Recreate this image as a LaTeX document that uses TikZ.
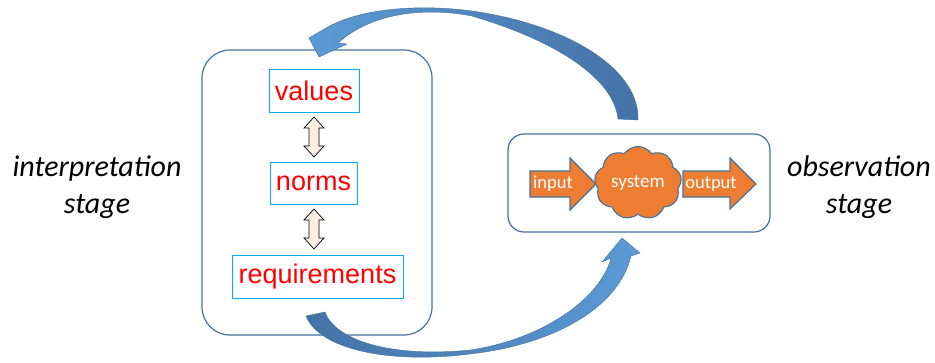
\documentclass[tikz,border=0pt]{standalone}
\usepackage{fontspec}
\setmainfont{Carlito}
\newfontfamily\arialf{Liberation Sans}
\usetikzlibrary{shapes.symbols}
\definecolor{boxblue}{HTML}{41719C}
\definecolor{lightblue}{HTML}{5B9BD5}
\definecolor{darkblue}{HTML}{4472A6}
\definecolor{orng}{HTML}{ED7D31}
\definecolor{cyanb}{HTML}{00B0F0}
\definecolor{beige}{HTML}{FBEFE4}
\begin{document}
\begin{tikzpicture}[x=1pt,y=-1pt,
  stagebox/.style={draw=boxblue, line width=1.2pt, inner sep=0pt},
  termbox/.style={draw=cyanb, line width=0.9pt, inner sep=0pt, text=red,
    font=\arialf\fontsize{27}{30}\selectfont},
  stagetext/.style={font=\itshape\fontsize{30}{37}\selectfont, align=center, inner sep=0pt},
  dblarrow/.style={draw=black, fill=beige, line width=0.7pt},
  flowarrow/.style={draw=boxblue, fill=orng, line width=1.1pt},
  flowtext/.style={text=white, inner sep=0pt, font=\fontsize{18.5}{20}\selectfont},
  bigarrow/.style={draw=boxblue, line width=0.4pt}]
\useasboundingbox (0,0) rectangle (935,362);

% stage boxes
\node[stagebox, rounded corners=28pt, minimum width=230pt, minimum height=285pt] (interp) at (317,192.5) {};
\node[stagebox, rounded corners=16pt, minimum width=262pt, minimum height=98pt] (obs) at (639,183) {};

% term boxes
\node[termbox, minimum width=90pt, minimum height=43pt] (values) at (314,90.5) {values};
\node[termbox, minimum width=87pt, minimum height=42pt] (norms) at (313.5,183) {norms};
\node[termbox, minimum width=171pt, minimum height=43pt] (req) at (317.5,276.5) {requirements};

% double arrows
\draw[dblarrow] (314,117) -- (324,128) -- (319,128) -- (319,146) -- (324,146) -- (314,157)
  -- (304,146) -- (309,146) -- (309,128) -- (304,128) -- cycle;
\draw[dblarrow] (314,209) -- (324,220) -- (319,220) -- (319,238) -- (324,238) -- (314,249)
  -- (304,238) -- (309,238) -- (309,220) -- (304,220) -- cycle;

% stage labels
\node[stagetext] (interptext) at (97,187) {interpretation\\stage};
\node[stagetext] (obstext) at (859,187) {observation\\stage};

% flow inside observation stage
\draw[flowarrow] (530,171) -- (570,171) -- (570,158) -- (596,184) -- (570,210) -- (570,197) -- (530,197) -- cycle;
\draw[flowarrow] (683,171) -- (730,171) -- (730,158) -- (756,184) -- (730,209) -- (730,197) -- (683,197) -- cycle;
\node[cloud, cloud puffs=9, cloud puff arc=110, aspect=1.2, draw=boxblue, fill=orng, line width=1.1pt,
  minimum width=87pt, minimum height=73pt, inner sep=0pt, text=white,
  font=\fontsize{19}{20}\selectfont] (system) at (638,183) {system};
\node[flowtext] (input) at (553,184) {input};
\node[flowtext] (output) at (711,184) {output};

% big curved arrows
\path[bigarrow, left color=lightblue, right color=darkblue]
  (638,120) -- (618,119)
  .. controls (614,80) and (560,42) .. (472,16)
  .. controls (430,8) and (375,10) .. (338,43)
  -- (347,44) -- (319,57) -- (309,38) -- (326,28)
  .. controls (360,8) and (420,4) .. (472,11)
  .. controls (570,25) and (640,70) .. (638,120) -- cycle;
\path[bigarrow, left color=darkblue, right color=lightblue]
  (306,316) -- (325,312)
  .. controls (335,340) and (390,358) .. (470,350)
  .. controls (540,340) and (600,300) .. (611,258)
  -- (602,262) -- (622,238) -- (640,253) -- (631,256)
  .. controls (618,310) and (550,345) .. (470,354)
  .. controls (390,364) and (320,350) .. (306,316) -- cycle;
\end{tikzpicture}
\end{document}
